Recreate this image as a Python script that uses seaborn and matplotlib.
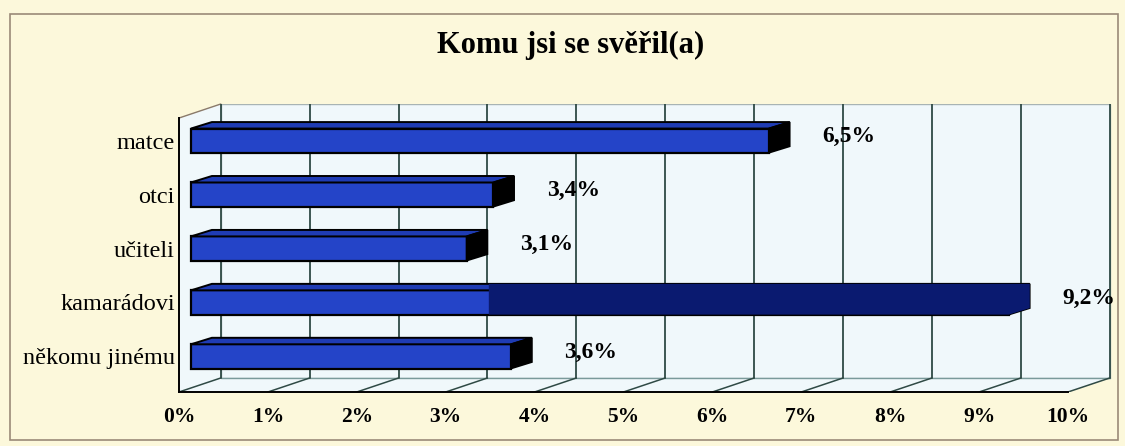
import matplotlib
matplotlib.use("Agg")
import matplotlib.pyplot as plt
from matplotlib.patches import Polygon, Rectangle
import seaborn as sns

# --- Data ---
categories = ["matce", "otci", "učiteli", "kamarádovi", "někomu jinému"]
values = [6.5, 3.4, 3.1, 9.2, 3.6]
tick_values = list(range(0, 11))
title = "Komu jsi se svěřil(a)"
# the scanned original has the "kamarádovi" bar painted dark navy from ~3.35 % on
navy_category = "kamarádovi"
navy_start = 3.35

sns.set_style("white")
plt.rcParams["font.family"] = ["Liberation Serif", "DejaVu Serif"]
plt.rcParams["text.color"] = "black"

page_bg = "#fcf8db"
wall_bg = "#f0f8fb"
grid_col = "#2f4a45"
tick_col = "#b0552a"
bar_col = "#2444c8"
top_col = "#1f3cb4"
navy = "#0a1a70"

# 3D-ish geometry (data units)
FX = -0.135           # front plane shift in x
DX, DY = 0.47, -0.26  # front -> back wall offset
front_top, front_bot = -0.42, 4.66
SX, SY = 0.235, -0.12  # bar depth
bar_h = 0.45

fig = plt.figure(figsize=(11.25, 4.46), dpi=100)
fig.patch.set_facecolor(page_bg)
fig.patches.append(Rectangle((10 / 1125, 1 - 440 / 446), 1108 / 1125, 426 / 446,
                             transform=fig.transFigure, fill=False,
                             edgecolor="#9a8a78", linewidth=1.2))

ax = fig.add_axes([179 / 1125, 1 - 392 / 446, (1115 - 179) / 1125, (392 - 104) / 446])
ax.set_facecolor("none")

# bars (front faces)
sns.barplot(x=values, y=categories, orient="h", color=bar_col, width=bar_h,
            edgecolor="black", linewidth=1.6, saturation=1, ax=ax, zorder=2)
bars = [p for p in ax.patches if isinstance(p, Rectangle)]

# walls
back_l, back_r = FX + DX, 10 + FX + DX
back_t, back_b = front_top + DY, front_bot + DY
ax.add_patch(Polygon([(back_l, back_t), (back_r, back_t), (back_r, back_b), (back_l, back_b)],
                     closed=True, facecolor=wall_bg, edgecolor="#a8b4b4", linewidth=1, zorder=0))
ax.add_patch(Polygon([(FX, front_top), (back_l, back_t), (back_l, back_b), (FX, front_bot)],
                     closed=True, facecolor=wall_bg, edgecolor="none", zorder=0))
ax.add_patch(Polygon([(FX, front_bot), (10 + FX, front_bot), (back_r, back_b), (back_l, back_b)],
                     closed=True, facecolor=wall_bg, edgecolor="none", zorder=0))
ax.plot([FX, back_l], [front_top, back_t], color="#8a7a6a", lw=1, zorder=1, clip_on=False)
ax.plot([back_l, back_r], [back_b, back_b], color="#7a9a9a", lw=1, zorder=1)
for t in tick_values:
    ax.plot([t + FX + DX, t + FX + DX], [back_t, back_b], color=grid_col, lw=1.3, zorder=1)
    ax.plot([t + FX, t + FX + DX], [front_bot, back_b], color=grid_col, lw=1.1, zorder=1)

for cat, val, p in zip(categories, values, bars):
    x0, y0, w, h = p.get_x(), p.get_y(), p.get_width(), p.get_height()
    yt, yb = y0, y0 + h
    top = Polygon([(x0, yt), (x0 + w, yt), (x0 + w + SX, yt + SY), (x0 + SX, yt + SY)],
                  closed=True, facecolor=top_col, edgecolor="black", linewidth=1.4, zorder=2)
    side = Polygon([(x0 + w, yt), (x0 + w + SX, yt + SY), (x0 + w + SX, yb + SY), (x0 + w, yb)],
                   closed=True, facecolor="black", edgecolor="black", linewidth=1.2, zorder=2)
    ax.add_patch(top)
    ax.add_patch(side)
    if cat == navy_category:
        ax.add_patch(Polygon([(navy_start, yt + SY), (x0 + w + SX, yt + SY), (x0 + w + SX, yb + SY),
                              (x0 + w, yb), (navy_start, yb)],
                             closed=True, facecolor=navy, edgecolor="none", zorder=3))
    ax.text(val + 0.6, y0 + h / 2 - 0.08, f"{val:.1f}%".replace(".", ","),
            ha="left", va="center", fontsize=17, fontweight="bold", color="black", zorder=4)

ax.set_xlim(FX, 10.394)
ax.set_ylim(front_bot, -0.68)

for s in ["top", "right"]:
    ax.spines[s].set_visible(False)
ax.spines["bottom"].set_bounds(FX, 10 + FX)
ax.spines["left"].set_bounds(front_top, front_bot)
for s in ["bottom", "left"]:
    ax.spines[s].set_color("black")
    ax.spines[s].set_linewidth(1.4)

ax.set_xticks([t + FX for t in tick_values])
ax.set_xticklabels([f"{t}%" for t in tick_values], fontsize=15.5, fontweight="bold")
ax.tick_params(axis="x", length=5, color=tick_col, width=1.2, pad=6, labelcolor="black")

ax.set_yticks(range(len(categories)))
ax.set_yticklabels(categories, fontsize=17.5)
ax.set_yticks([i + 0.6 for i in range(-1, len(categories))], minor=True)
ax.tick_params(axis="y", which="major", length=0, pad=3, labelcolor="black")
ax.tick_params(axis="y", which="minor", length=5, color=tick_col, width=1.2)
ax.set_xlabel("")
ax.set_ylabel("")
ax.grid(False)

fig.text(571 / 1125, 1 - 45 / 446, title, ha="center", va="center",
         fontsize=22, fontweight="bold", color="black")

fig.savefig("out.png", dpi=100, facecolor=page_bg)
